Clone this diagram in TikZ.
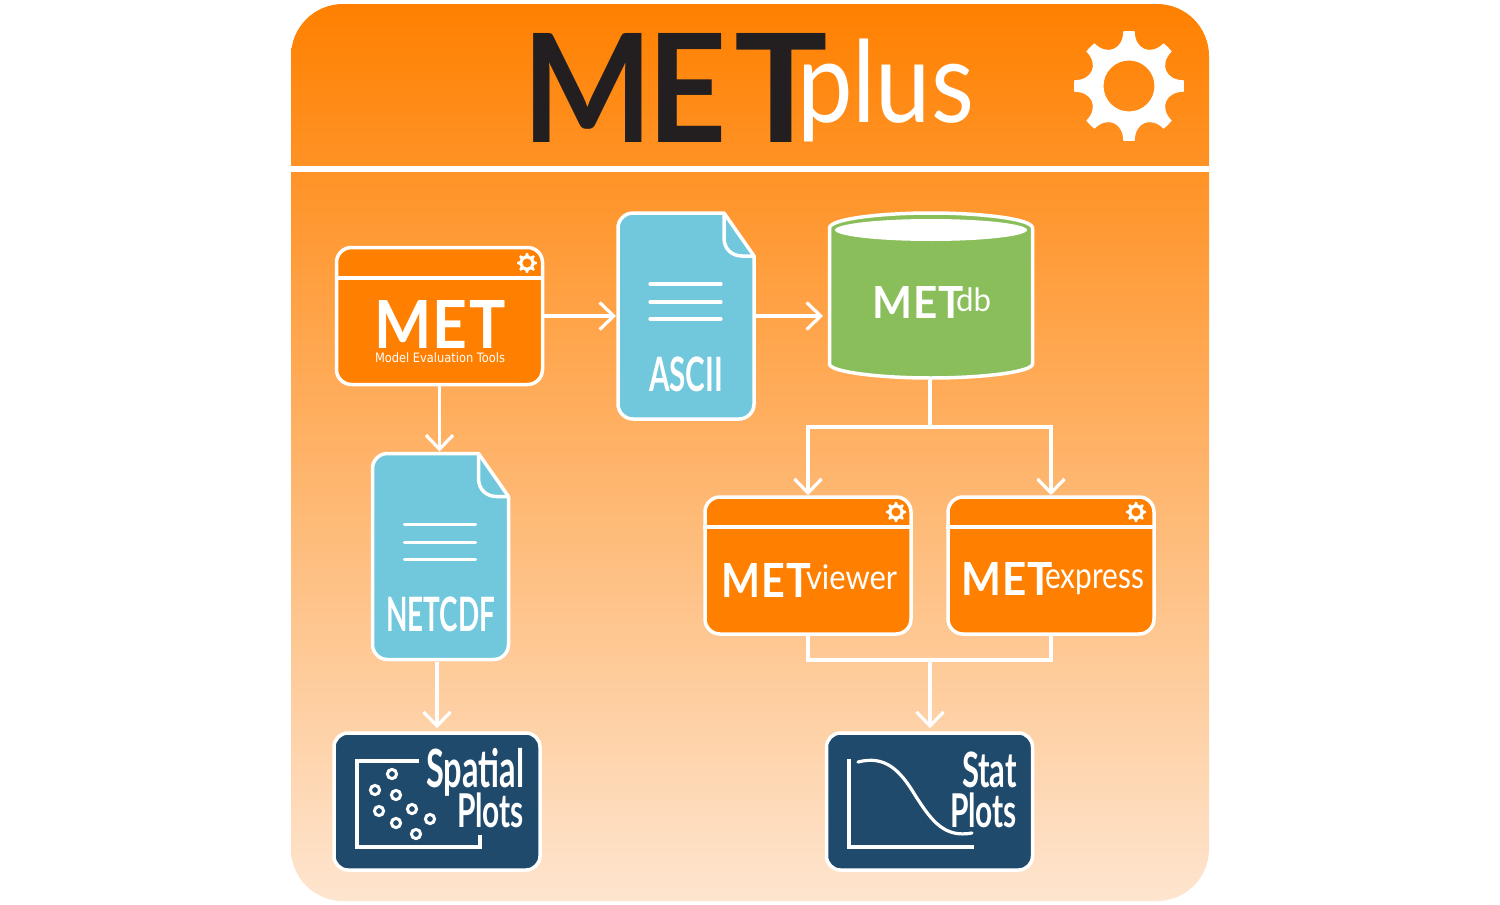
\documentclass[tikz,border=0pt]{standalone}
\usepackage{fontspec}
\usepackage{graphicx}
\usetikzlibrary{arrows.meta,calc}
\setmainfont{Lato}
\newfontfamily\subf{DejaVu Sans}
\definecolor{metorange}{RGB}{255,128,0}
\definecolor{panelend}{RGB}{254,229,207}
\definecolor{filecol}{RGB}{113,199,219}
\definecolor{dbgreen}{RGB}{138,190,90}
\definecolor{plotblue}{RGB}{31,74,107}
\definecolor{titledark}{RGB}{35,31,32}
\tikzset{
  whiteline/.style={draw=white,line width=3.5pt},
  linkline/.style={draw=white,line width=3.2pt},
  linkarrow/.style={linkline,-{Straight Barb[length=14pt,width=27pt,line width=3.2pt]}},
  winbox/.style={rectangle,rounded corners=15pt,draw=white,line width=3.5pt,fill=metorange,minimum width=206pt,minimum height=137pt,inner sep=0pt},
  plotbox/.style={rectangle,rounded corners=14pt,draw=white,line width=3.5pt,fill=plotblue,minimum width=206pt,minimum height=137pt,inner sep=0pt},
  anchorbox/.style={rectangle,minimum width=140pt,minimum height=210pt,inner sep=0pt,outer sep=0pt},
  fitlabel/.style={inner sep=0pt,outer sep=0pt,anchor=north west,text=white},
}
% name, left, top, width, total height, text
\newcommand{\fitlabel}[7][white]{\node[fitlabel,text=#1] (#2) at (#3,#4) {\resizebox*{#5pt}{#6pt}{#7}};}
% centre x, y, outer radius
\newcommand{\metgear}[3]{%
  \begin{scope}[shift={(#1,#2)},x={(#3*1pt/55,0pt)},y={(0pt,#3*1pt/55)}]
    \fill[white,even odd rule] (-6:55)
      \foreach \a in {0,45,...,315}{ arc[start angle=\a-6,end angle=\a+6,radius=55]
        .. controls (\a+9:37) and (\a+36:37) .. (\a+39:55) } -- cycle
      (0,0) circle[radius=25.5];
  \end{scope}}
% file icon: left, top of the centreline box
\newcommand{\fileicon}[2]{%
  \begin{scope}[shift={(#1,#2)}]
    \path[fill=filecol,whiteline,line join=round] (106,0) -- (15,0) arc[start angle=-90,end angle=-180,radius=15] -- (0,191) arc[start angle=180,end angle=90,radius=15] -- (121,206) arc[start angle=90,end angle=0,radius=15] -- (136,43) -- cycle;
    \draw[whiteline,line join=round] (106,0) -- (106,25) .. controls (106,36) and (114,43) .. (124,43) -- (136,43);
    \foreach \yy in {71,89,106}{\draw[line width=3.2pt,white,line cap=round] (32,\yy) -- (103,\yy);}
  \end{scope}}
\begin{document}
\begin{tikzpicture}[x=1pt,y=-1pt]
\useasboundingbox (0,0) rectangle (1500,905);
\fill[white] (0,0) rectangle (1500,905);
\shade[top color=metorange,bottom color=panelend,rounded corners=52pt] (291,4) rectangle (1209,901);
\fill[white] (291,166) rectangle (1209,172);

% title
\fitlabel[titledark]{titlemet}{522}{33}{306}{109}{\bfseries M\kern-0.35pt E\kern0.55pt\scalebox{1.13}[1]{T}}
\fitlabel{titleplus}{797}{39}{177}{103}{plus}
\metgear{1129}{86}{55}

% boxes
\node[winbox] (met) at (439.5,316) {};
\draw[whiteline] (met.west |- 0,278) -- (met.east |- 0,278);
\metgear{527}{263}{10}
\fitlabel{mettext}{374}{300}{132}{48}{\bfseries\addfontfeature{LetterSpace=3}MET}
\fitlabel{mettools}{375}{353}{130}{10}{\subf Model Evaluation Tools}

\fileicon{618}{213}
\node[anchorbox] (ascii) at (686,316) {};
\fitlabel{asciitext}{649}{357}{74}{35}{\bfseries ASCII}

\fileicon{372.5}{453.5}
\node[anchorbox] (netcdf) at (440.5,556.5) {};
\fitlabel{netcdftext}{386}{597}{109}{35}{\bfseries NETCDF}

\node[rectangle,minimum width=206pt,minimum height=169pt,inner sep=0pt,outer sep=0pt] (metdb) at (931,295.5) {};
\path[fill=dbgreen,whiteline] (829.5,228) .. controls (829.5,219) and (880,213) .. (931,213) .. controls (982,213) and (1032.5,219) .. (1032.5,228) -- (1032.5,364) .. controls (1032.5,372) and (982,378) .. (931,378) .. controls (880,378) and (829.5,372) .. (829.5,364) -- cycle;
\fill[white] (931,230) ellipse[x radius=96,y radius=11];
\fitlabel{dbmet}{872}{286}{92}{32}{\bfseries\addfontfeature{LetterSpace=3}MET}
\fitlabel{dbdb}{956}{288}{35}{24}{db}

\node[winbox] (metviewer) at (808,565.5) {};
\draw[whiteline] (metviewer.west |- 0,527) -- (metviewer.east |- 0,527);
\metgear{896}{512}{10}
\fitlabel{viewermet}{721}{563}{90}{34}{\bfseries\addfontfeature{LetterSpace=3}MET}
\fitlabel{viewertext}{806}{565}{91}{25}{viewer}

\node[winbox] (metexpress) at (1051,565.5) {};
\draw[whiteline] (metexpress.west |- 0,527) -- (metexpress.east |- 0,527);
\metgear{1136}{512}{10}
\fitlabel{expressmet}{961}{562}{92}{33}{\bfseries\addfontfeature{LetterSpace=3}MET}
\fitlabel{expresstext}{1045}{570}{99}{25}{express}

\node[plotbox] (spatial) at (437,801.5) {};
\draw[line width=3.2pt,white] (419,761) -- (357,761) -- (357,847) -- (480,847) -- (480,835);
\foreach \cx/\cy in {392/774,375/790,396/795,379/811,412/809,430/819,396/823,416/834}{\draw[white,line width=3pt] (\cx,\cy) circle[radius=4.6];}
\fitlabel{spatialtext}{426}{748}{98}{48}{\bfseries Spatial}
\fitlabel{spatialplots}{457}{793}{67}{35}{\bfseries Plots}

\node[plotbox] (stat) at (929.5,801.5) {};
\draw[line width=3.2pt,white] (849,759) -- (849,847) -- (974,847);
\draw[line width=3.2pt,white,line cap=round] (858,762) .. controls (885,755) and (900,770) .. (915,795) .. controls (932,822) and (945,838) .. (972,833);
\fitlabel{stattext}{962}{752}{55}{36}{\bfseries Stat}
\fitlabel{statplots}{950}{793}{67}{35}{\bfseries Plots}

% connectors
\coordinate (split) at (930,427);
\coordinate (join) at (930,660);
\draw[linkarrow] (met.east) -- (met.east -| ascii.west);
\draw[linkarrow,shorten >=5pt] (ascii.east) -- (ascii.east -| metdb.west);
\draw[linkarrow] (met.south) -- (met.south |- netcdf.north);
\draw[linkarrow,shorten >=3pt] (netcdf.south -| spatial.north) -- (spatial.north);
\draw[linkline] (metdb.south -| split) -- (split);
\draw[linkarrow] (split) -| (metviewer.north);
\draw[linkarrow] (split) -| (metexpress.north);
\draw[linkline] (metviewer.south) |- (join);
\draw[linkline] (metexpress.south) |- (join);
\draw[linkarrow,shorten >=3pt] (join) -- (join |- stat.north);
\end{tikzpicture}
\end{document}
